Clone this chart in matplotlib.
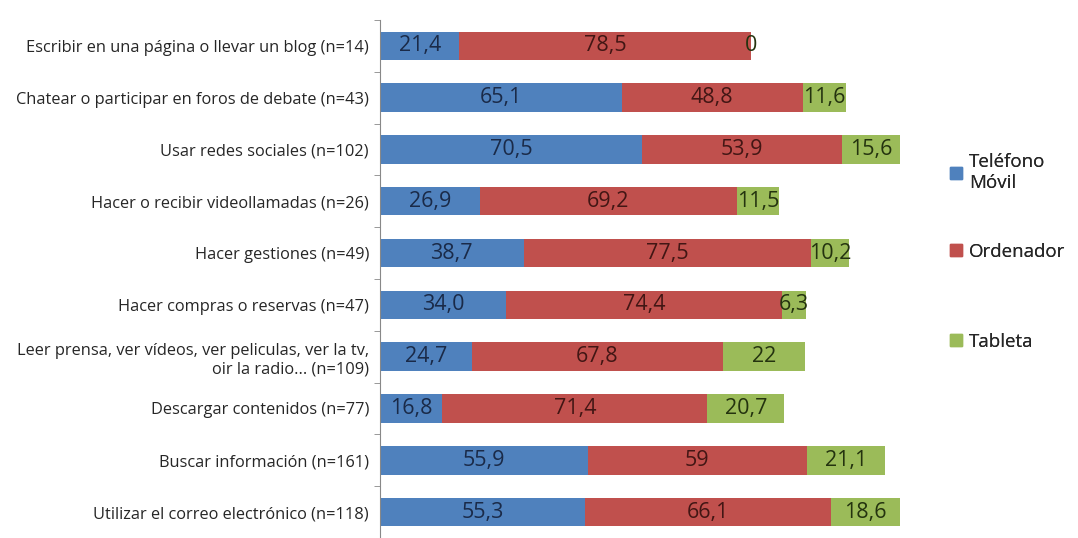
import numpy as np
import matplotlib.pyplot as plt
from matplotlib.patches import Patch

plt.rcParams['font.family'] = ['Open Sans', 'DejaVu Sans']

categories = [
    'Escribir en una página o llevar un blog (n=14)',
    'Chatear o participar en foros de debate (n=43)',
    'Usar redes sociales (n=102)',
    'Hacer o recibir videollamadas (n=26)',
    'Hacer gestiones (n=49)',
    'Hacer compras o reservas (n=47)',
    'Leer prensa, ver vídeos, ver peliculas, ver la tv,\noir la radio... (n=109)',
    'Descargar contenidos (n=77)',
    'Buscar información (n=161)',
    'Utilizar el correo electrónico (n=118)',
]
series_names = ['Teléfono\nMóvil', 'Ordenador', 'Tableta']
movil = [21.4, 65.1, 70.5, 26.9, 38.7, 34.0, 24.7, 16.8, 55.9, 55.3]
ordenador = [78.5, 48.8, 53.9, 69.2, 77.5, 74.4, 67.8, 71.4, 59, 66.1]
tableta = [0, 11.6, 15.6, 11.5, 10.2, 6.3, 22, 20.7, 21.1, 18.6]
movil_lbl = ['21,4', '65,1', '70,5', '26,9', '38,7', '34,0', '24,7', '16,8', '55,9', '55,3']
ordenador_lbl = ['78,5', '48,8', '53,9', '69,2', '77,5', '74,4', '67,8', '71,4', '59', '66,1']
tableta_lbl = ['0', '11,6', '15,6', '11,5', '10,2', '6,3', '22', '20,7', '21,1', '18,6']

colors = ['#4F81BD', '#C0504D', '#9BBB59']
text_colors = ['#1A2A48', '#421614', '#24330F']

fig = plt.figure(figsize=(10.78, 5.38), dpi=100)
ax = fig.add_axes([0.3525, 0.0, 0.489, 0.963])

y = np.arange(len(categories))
left = np.zeros(len(categories))
for vals, lbls, c, tc, name in zip([movil, ordenador, tableta],
                                   [movil_lbl, ordenador_lbl, tableta_lbl],
                                   colors, text_colors, series_names):
    vals = np.array(vals, dtype=float)
    bars = ax.barh(y, vals, left=left, height=0.55, color=c, label=name)
    ax.bar_label(bars, labels=lbls, label_type='center', fontsize=15.5, color=tc)
    left += vals

ax.set_ylim(len(categories) - 0.5, -0.5)
ax.set_xlim(0, 142)
ax.set_yticks(y, categories, fontsize=11.8, color='#262626')
ax.set_yticks(np.arange(len(categories) + 1) - 0.5, minor=True)
ax.tick_params(axis='y', which='major', length=0, pad=8)
ax.tick_params(axis='y', which='minor', length=4, color='#888888')
ax.set_xticks([])
for s in ['top', 'right', 'bottom']:
    ax.spines[s].set_visible(False)
ax.spines['left'].set_color('#888888')

# one legend per entry so the rows are evenly spaced like the original
legend_tops = [0.747, 0.580, 0.413]
for c, name, top in zip(colors, series_names, legend_tops):
    leg = fig.legend([Patch(color=c)], [name], loc='upper left',
                     bbox_to_anchor=(0.866, top), frameon=False, fontsize=13.5,
                     handlelength=0.6, handleheight=0.6, handletextpad=0.4)
    for t in leg.get_texts():
        t.set_color('#262626')
    fig.add_artist(leg)

fig.savefig('out.png', dpi=100)
